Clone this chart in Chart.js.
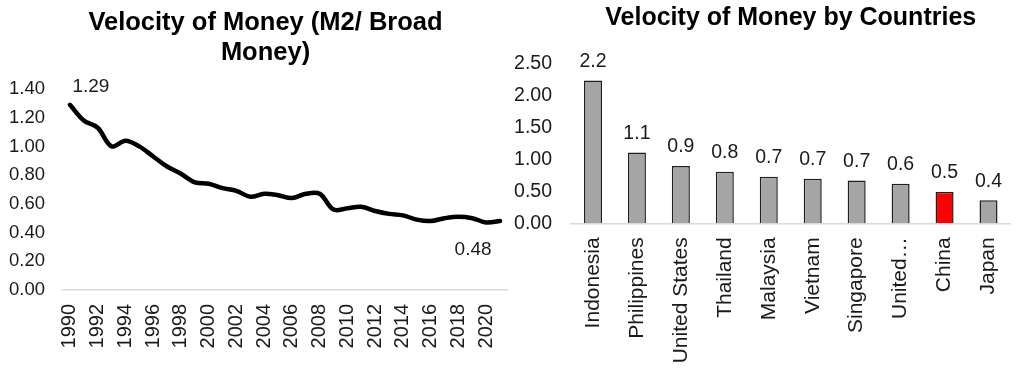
<!DOCTYPE html>
<html>
<head>
<meta charset="utf-8">
<script src="https://cdn.jsdelivr.net/npm/chart.js@4.4.1/dist/chart.umd.min.js"></script>
<style>
  html, body { margin: 0; padding: 0; background: #ffffff; }
  body { width: 1021px; height: 380px; position: relative; overflow: hidden; }
  .box { position: absolute; top: 0; }
  #leftBox { left: 0; width: 531px; height: 380px; }
  #rightBox { left: 500px; width: 521px; height: 380px; }
</style>
</head>
<body>
<div id="leftBox" class="box"><canvas id="left" width="531" height="380"></canvas></div>
<div id="rightBox" class="box"><canvas id="right" width="521" height="380"></canvas></div>
<script>
// ---------- Data ----------
const years = ['1990','1991','1992','1993','1994','1995','1996','1997','1998','1999',
  '2000','2001','2002','2003','2004','2005','2006','2007','2008','2009',
  '2010','2011','2012','2013','2014','2015','2016','2017','2018','2019',
  '2020','2021'];
const velocityM2 = [1.29, 1.18, 1.13, 1.00, 1.04, 1.00, 0.93, 0.86, 0.81, 0.75,
  0.74, 0.71, 0.69, 0.65, 0.67, 0.66, 0.64, 0.67, 0.67, 0.56,
  0.57, 0.58, 0.55, 0.53, 0.52, 0.49, 0.48, 0.50, 0.51, 0.50,
  0.47, 0.48];
const lineLabelIndexes = [0, 31];
const leftTitle = ['Velocity of Money (M2/ Broad', 'Money)'];

const countries = ['Indonesia', 'Philippines', 'United States', 'Thailand', 'Malaysia',
  'Vietnam', 'Singapore', 'United\u2026', 'China', 'Japan'];
const countryVelocity = [2.24, 1.11, 0.90, 0.81, 0.73, 0.70, 0.67, 0.62, 0.49, 0.36];
const highlightCountry = 'China';
const rightTitle = 'Velocity of Money by Countries';

// ---------- Styles ----------
const FONT = "'Liberation Sans', Arial, Helvetica, sans-serif";
const TEXT = '#1a1a1a';
const AXIS = '#d9d9d9';

// Label plugin for the line chart
const lineLabelPlugin = {
  id: 'lineLabels',
  afterDatasetsDraw(chart, args, opts) {
    const ctx = chart.ctx;
    const meta = chart.getDatasetMeta(0);
    const data = chart.data.datasets[0].data;
    ctx.save();
    ctx.font = opts.size + 'px ' + FONT;
    ctx.fillStyle = TEXT;
    ctx.textAlign = 'center';
    ctx.textBaseline = 'middle';
    opts.indexes.forEach((idx, k) => {
      const pt = meta.data[idx];
      const off = opts.offsets[k];
      ctx.fillText(data[idx].toFixed(2), pt.x + off[0], pt.y + off[1]);
    });
    ctx.restore();
  }
};

// Label plugin for the bar chart
const barLabelPlugin = {
  id: 'barLabels',
  afterDatasetsDraw(chart, args, opts) {
    const ctx = chart.ctx;
    const meta = chart.getDatasetMeta(0);
    const data = chart.data.datasets[0].data;
    ctx.save();
    ctx.font = opts.size + 'px ' + FONT;
    ctx.fillStyle = TEXT;
    ctx.textAlign = 'center';
    ctx.textBaseline = 'middle';
    meta.data.forEach((bar, i) => {
      ctx.fillText(data[i].toFixed(1), bar.x, bar.y - opts.gap);
    });
    ctx.restore();
  }
};

// ---------- Left chart ----------
new Chart(document.getElementById('left'), {
  type: 'line',
  data: {
    labels: years,
    datasets: [{
      data: velocityM2,
      yAxisID: 'y',
      borderColor: '#000000',
      borderWidth: 4.5,
      pointRadius: 0,
      tension: 0.35,
      borderCapStyle: 'round',
      borderJoinStyle: 'round',
      fill: false
    }]
  },
  options: {
    responsive: false,
    animation: false,
    devicePixelRatio: 1,
    layout: { padding: 0 },
    plugins: {
      legend: { display: false },
      tooltip: { enabled: false },
      title: {
        display: true,
        text: leftTitle,
        color: '#000000',
        font: { family: FONT, size: 25.5, weight: 'bold', lineHeight: 1.18 },
        padding: { top: 8, bottom: 20.8 }
      },
      lineLabels: { indexes: lineLabelIndexes, offsets: [[21, -18], [-27, 29]], size: 19 }
    },
    scales: {
      x: {
        offset: true,
        grid: { display: false, drawTicks: false },
        border: { display: true, color: AXIS, width: 1.5 },
        ticks: {
          autoSkip: false,
          maxRotation: 90,
          minRotation: 90,
          padding: 14,
          color: TEXT,
          font: { family: FONT, size: 20 },
          callback: function(v, i) { return i % 2 === 0 ? this.getLabelForValue(v) : ''; }
        },
        afterFit: s => { s.height = 90; s.paddingLeft = 0; s.paddingRight = 0; }
      },
      y: {
        position: 'left',
        min: 0,
        max: 1.4,
        grid: { display: false, drawTicks: false },
        border: { display: false },
        ticks: {
          stepSize: 0.2,
          padding: 18,
          color: TEXT,
          font: { family: FONT, size: 18.5 },
          callback: v => Number(v).toFixed(2)
        },
        afterFit: s => { s.width = 63; s.paddingTop = 0; s.paddingBottom = 0; }
      },
      spacer: {
        position: 'right',
        min: 0,
        max: 1.4,
        grid: { display: false, drawTicks: false },
        border: { display: false },
        ticks: { display: false },
        afterFit: s => { s.width = 24; s.paddingTop = 0; s.paddingBottom = 0; }
      }
    }
  },
  plugins: [lineLabelPlugin]
});

// ---------- Right chart ----------
new Chart(document.getElementById('right'), {
  type: 'bar',
  data: {
    labels: countries,
    datasets: [{
      data: countryVelocity,
      backgroundColor: c => countries[c.dataIndex] === highlightCountry ? '#ff0000' : '#a5a5a5',
      borderColor: '#1f1f1f',
      borderWidth: 1.5,
      categoryPercentage: 1,
      barPercentage: 0.41
    }]
  },
  options: {
    responsive: false,
    animation: false,
    devicePixelRatio: 1,
    layout: { padding: { left: 0, right: 10.5, top: 0, bottom: 0 } },
    plugins: {
      legend: { display: false },
      tooltip: { enabled: false },
      title: {
        display: true,
        fullSize: false,
        text: rightTitle,
        color: '#000000',
        font: { family: FONT, size: 25, weight: 'bold', lineHeight: 1.15 },
        padding: { top: 4, bottom: 31.25 }
      },
      barLabels: { gap: 19, size: 19.5 }
    },
    scales: {
      x: {
        grid: { display: false, drawTicks: false },
        border: { display: true, color: AXIS, width: 1.5 },
        ticks: {
          autoSkip: false,
          maxRotation: 90,
          minRotation: 90,
          padding: 14,
          color: TEXT,
          font: { family: FONT, size: 21 }
        },
        afterFit: s => { s.height = 156.7; s.paddingLeft = 0; s.paddingRight = 0; }
      },
      y: {
        min: 0,
        max: 2.5,
        grid: { display: false, drawTicks: false },
        border: { display: false },
        ticks: {
          stepSize: 0.5,
          padding: 19,
          color: TEXT,
          font: { family: FONT, size: 19.5 },
          callback: v => Number(v).toFixed(2)
        },
        afterFit: s => { s.width = 71; s.paddingTop = 0; s.paddingBottom = 0; }
      }
    }
  },
  plugins: [barLabelPlugin]
});
</script>
</body>
</html>
